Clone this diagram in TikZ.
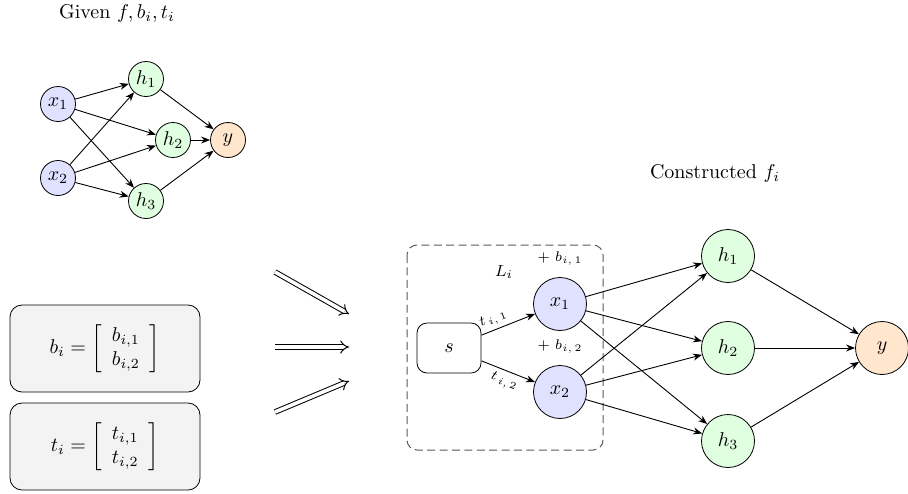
\documentclass[tikz,border=0pt]{standalone}
\usepackage{amsmath}
\usetikzlibrary{arrows.meta}
\definecolor{xcol}{HTML}{E0E0FF}
\definecolor{hcol}{HTML}{E0FFE0}
\definecolor{ycol}{HTML}{FFE6CC}
\definecolor{boxcol}{HTML}{F3F3F3}
\begin{document}
\begin{tikzpicture}[x=0.5pt,y=-0.5pt,
  smallnode/.style={circle,draw,inner sep=0pt,minimum size=17.5pt},
  bignode/.style={circle,draw,inner sep=0pt,minimum size=26.5pt},
  xn/.style={fill=xcol},
  hn/.style={fill=hcol},
  yn/.style={fill=ycol},
  conn/.style={-{Stealth[length=4.5pt,width=3.5pt]},line width=0.45pt},
  vecbox/.style={draw,rounded corners=6pt,fill=boxcol,minimum width=95pt,minimum height=43.5pt},
  dbl/.style={double,double distance=1.8pt,line width=0.5pt,-{Implies}},
  lbl/.style={font=\scriptsize,inner sep=1pt}]
\useasboundingbox (0,0) rectangle (908,493);

% Given network
\node (given) at (117,13) {Given $f,b_i,t_i$};
\node[smallnode,xn] (sx1) at (58,104) {$x_1$};
\node[smallnode,xn] (sx2) at (58,178) {$x_2$};
\node[smallnode,hn] (sh1) at (146,79) {$h_1$};
\node[smallnode,hn] (sh2) at (173,140) {$h_2$};
\node[smallnode,hn] (sh3) at (146,201) {$h_3$};
\node[smallnode,yn] (sy) at (228,140) {$y$};
\foreach \a in {sx1,sx2}{\foreach \b in {sh1,sh2,sh3}{\draw[conn] (\a) -- (\b);}}
\foreach \b in {sh1,sh2,sh3}{\draw[conn] (\b) -- (sy);}

% vector boxes
\node[vecbox] (bbox) at (105,348.5) {$b_i=\left[\begin{array}{c} b_{i,1}\\ b_{i,2}\end{array}\right]$};
\node[vecbox] (tbox) at (105,446.5) {$t_i=\left[\begin{array}{c} t_{i,1}\\ t_{i,2}\end{array}\right]$};

% double arrows
\coordinate (a1s) at (275,272); \coordinate (a1e) at (349,314);
\coordinate (a2s) at (275,347); \coordinate (a2e) at (349,347);
\coordinate (a3s) at (275,412); \coordinate (a3e) at (349,381);
\draw[dbl] (a1s) -- (a1e);
\draw[dbl] (a2s) -- (a2e);
\draw[dbl] (a3s) -- (a3e);

% constructed network
\node (constr) at (715,173) {Constructed $f_i$};
\draw[black!65,dash pattern=on 4pt off 2.2pt,line width=0.5pt,rounded corners=5pt] (407,245) rectangle (603,450);
\node (Li) at (504,272) {\footnotesize $L_i$};
\node[draw,rounded corners=5pt,minimum width=32pt,minimum height=25pt] (s) at (449,348) {$s$};
\node[bignode,xn] (x1) at (560,304) {$x_1$};
\node[bignode,xn] (x2) at (560,392) {$x_2$};
\node[lbl] (b1) at (560,259) {$+\ b_{i,\,1}$};
\node[lbl] (b2) at (560,347) {$+\ b_{i,\,2}$};
\draw[conn] (s) -- node[lbl,sloped,above=1pt,pos=0.3] {$t_{\,i,\,1}$} (x1);
\draw[conn] (s) -- node[lbl,sloped,below=1pt,pos=0.5] {$t_{\,i,\,2}$} (x2);
\node[bignode,hn] (h1) at (728,256) {$h_1$};
\node[bignode,hn] (h2) at (728,348) {$h_2$};
\node[bignode,hn] (h3) at (728,441) {$h_3$};
\node[bignode,yn] (y) at (882,348) {$y$};
\foreach \a in {x1,x2}{\foreach \b in {h1,h2,h3}{\draw[conn] (\a) -- (\b);}}
\foreach \b in {h1,h2,h3}{\draw[conn] (\b) -- (y);}
\end{tikzpicture}
\end{document}
